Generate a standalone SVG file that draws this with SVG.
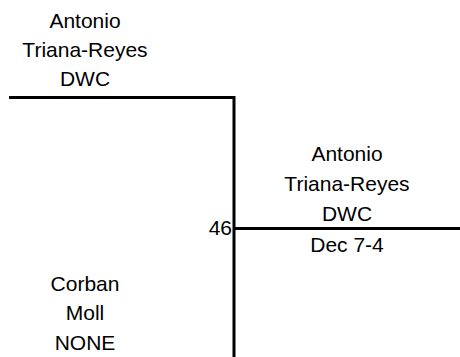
<svg xmlns="http://www.w3.org/2000/svg" width="460" height="357" viewBox="0 0 460 357">
<style>
text{font-family:"Liberation Sans",Arial,sans-serif;font-size:21px;fill:#000;text-anchor:middle}
.ln{stroke:#000;stroke-width:3;fill:none}
</style>
<rect width="460" height="357" fill="#fff"/>
<g id="connectors">
<path class="ln" d="M9,97.5 H234 V357"/>
<path class="ln" d="M234,228.5 H460"/>
</g>
<g id="node-top">
<text x="85" y="28">Antonio</text>
<text x="85" y="57">Triana-Reyes</text>
<text x="85" y="86">DWC</text>
</g>
<g id="node-winner">
<text x="347" y="161">Antonio</text>
<text x="347" y="191">Triana-Reyes</text>
<text x="347" y="221">DWC</text>
<text x="347" y="252">Dec 7-4</text>
</g>
<g id="node-seed">
<text x="232" y="235" style="text-anchor:end">46</text>
</g>
<g id="node-bottom">
<text x="85" y="291">Corban</text>
<text x="85" y="320">Moll</text>
<text x="85" y="350">NONE</text>
</g>
</svg>
